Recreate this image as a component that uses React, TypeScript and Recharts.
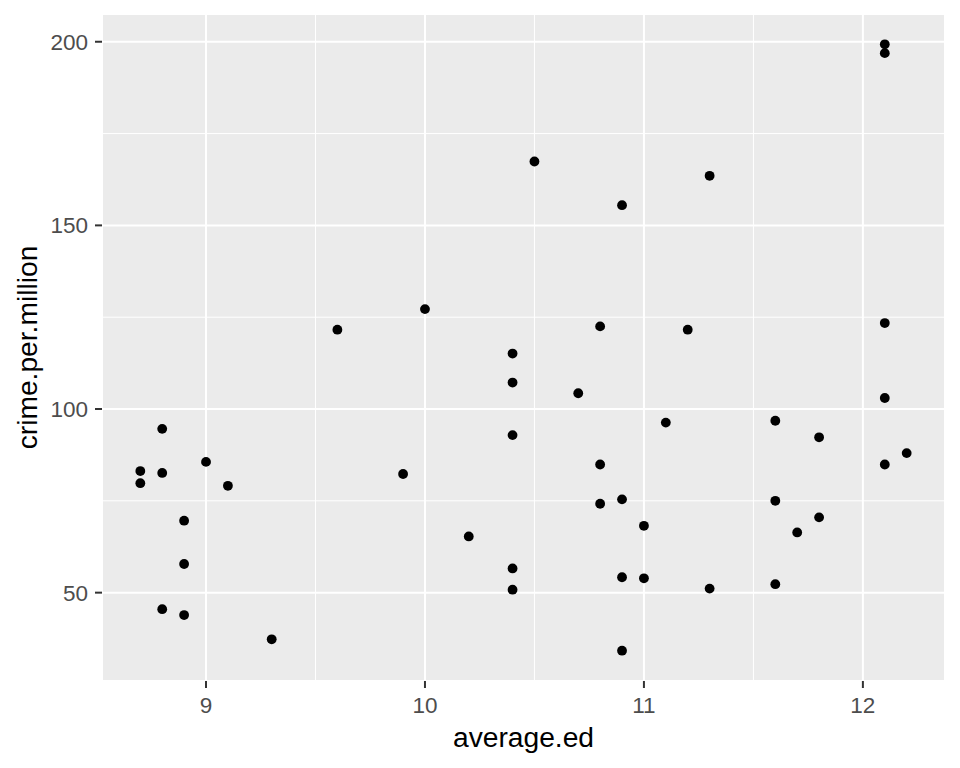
import { ScatterChart, Scatter, XAxis, YAxis, CartesianGrid, ReferenceLine, Label } from "recharts";

// average.ed (x) and crime.per.million (y), one entry per state
const averageEd = [
  9.1, 11.3, 8.9, 12.1, 12.1, 11.0, 11.1, 10.9, 9.0, 11.8, 10.5, 10.8, 11.3, 11.7, 8.7, 8.8,
  11.0, 10.4, 11.6, 10.8, 10.8, 8.9, 9.6, 11.6, 11.6, 12.1, 10.9, 11.2, 10.7, 8.9, 9.3, 10.9,
  10.4, 11.8, 10.2, 10.0, 8.7, 10.4, 8.8, 10.4, 12.2, 10.9, 9.9, 12.1, 8.8, 10.4, 12.1,
];
const crimePerMillion = [
  79.1, 163.5, 57.8, 196.9, 123.4, 68.2, 96.3, 155.5, 85.6, 70.5, 167.4, 84.9, 51.1, 66.4, 79.8, 94.6,
  53.9, 92.9, 75.0, 122.5, 74.2, 43.9, 121.6, 96.8, 52.3, 199.3, 34.2, 121.6, 104.3, 69.6, 37.3, 75.4,
  107.2, 92.3, 65.3, 127.2, 83.1, 56.6, 82.6, 115.1, 88.0, 54.2, 82.3, 103.0, 45.5, 50.8, 84.9,
];

const xTicks = [9, 10, 11, 12];
const yTicks = [50, 100, 150, 200];
const xMinor = [9.5, 10.5, 11.5];
const yMinor = [75, 125, 175];

const data = averageEd.map((ed, i) => ({ ed, crime: crimePerMillion[i] }));

// ggplot-style 5% expansion of the data range
function expand(vals: number[]): [number, number] {
  const lo = Math.min(...vals);
  const hi = Math.max(...vals);
  const pad = (hi - lo) * 0.05;
  return [lo - pad, hi + pad];
}

const FONT = "'Liberation Sans', Arial, sans-serif";
const tickStyle = { fill: "#4D4D4D", fontSize: 22.5, fontFamily: FONT };

function XTitle({ viewBox }: any) {
  return (
    <text
      x={viewBox.x + viewBox.width / 2}
      y={viewBox.y + viewBox.height - 21}
      textAnchor="middle"
      fontSize={28.2}
      fontFamily={FONT}
      fill="#000"
    >
      average.ed
    </text>
  );
}

function YTitle({ viewBox }: any) {
  const x = viewBox.x + 37;
  const y = viewBox.y + viewBox.height / 2;
  return (
    <text
      x={x}
      y={y}
      transform={`rotate(-90, ${x}, ${y})`}
      textAnchor="middle"
      fontSize={28.2}
      fontFamily={FONT}
      fill="#000"
    >
      crime.per.million
    </text>
  );
}

export default function App() {
  return (
    <div style={{ position: "absolute", left: 0, top: 0, width: 960, height: 768, background: "#fff" }}>
      <ScatterChart width={960} height={768} margin={{ top: 14, right: 15, bottom: 0, left: 0 }}>
        <CartesianGrid fill="#EBEBEB" stroke="#FFFFFF" strokeWidth={2} />
        {xMinor.map((v) => (
          <ReferenceLine key={`xm${v}`} x={v} stroke="#FFFFFF" strokeWidth={1} />
        ))}
        {yMinor.map((v) => (
          <ReferenceLine key={`ym${v}`} y={v} stroke="#FFFFFF" strokeWidth={1} />
        ))}
        <XAxis
          type="number"
          dataKey="ed"
          domain={expand(averageEd)}
          ticks={xTicks}
          height={87}
          axisLine={false}
          tickSize={7}
          tickMargin={9}
          tickLine={{ stroke: "#333333", strokeWidth: 2 }}
          tick={tickStyle}
        >
          <Label content={<XTitle />} />
        </XAxis>
        <YAxis
          type="number"
          dataKey="crime"
          domain={expand(crimePerMillion)}
          ticks={yTicks}
          width={102}
          axisLine={false}
          tickSize={7}
          tickMargin={7}
          tickLine={{ stroke: "#333333", strokeWidth: 2 }}
          tick={tickStyle}
        >
          <Label content={<YTitle />} />
        </YAxis>
        <Scatter
          data={data}
          isAnimationActive={false}
          shape={(p: any) => <circle cx={p.cx} cy={p.cy} r={4.9} fill="#000000" />}
        />
      </ScatterChart>
    </div>
  );
}
